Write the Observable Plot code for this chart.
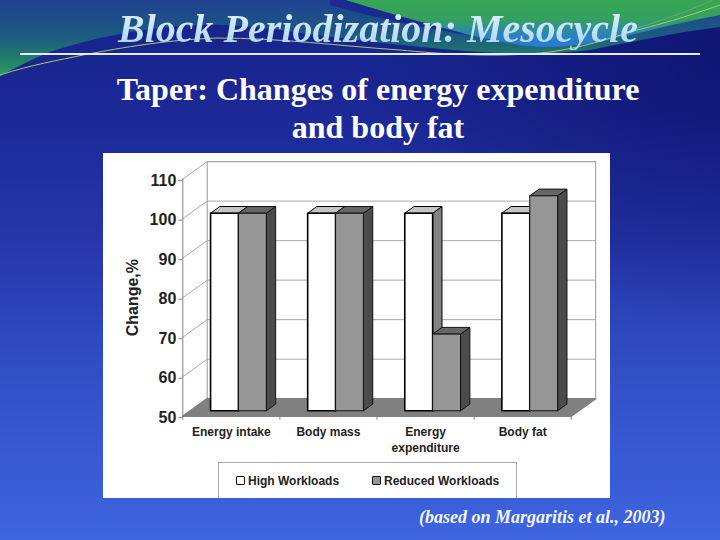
<!DOCTYPE html>
<html>
<head>
<meta charset="utf-8">
<script src="https://cdn.jsdelivr.net/npm/d3@7"></script>
<script src="https://cdn.jsdelivr.net/npm/@observablehq/plot@0.6"></script>
<style>
html,body{margin:0;padding:0}
body{width:720px;height:540px;position:relative;overflow:hidden;background:linear-gradient(180deg,#17238a 0%,#1b2896 20%,#2637ab 45%,#3250c6 70%,#3e64df 100%);background-size:720px 540px}
#deco{position:absolute;left:0;top:0;width:720px;height:540px;background-repeat:no-repeat}
.t{position:absolute;left:0;width:756px;text-align:center;font-family:"Liberation Serif","Times New Roman",serif;font-weight:bold;white-space:nowrap}
#title{top:7.5px;font-size:40px;line-height:42px;font-style:italic;background:linear-gradient(180deg,#e3f3ff,#a6d3f7);-webkit-background-clip:text;background-clip:text;color:transparent}
#rule{position:absolute;left:20px;top:53px;width:680px;height:2px;background:#e4ecff}
#sub{top:69.7px;font-size:32px;line-height:38px;color:#fff}
#box{position:absolute;left:103px;top:153px;width:507px;height:345px;background:#fff}
#box svg{display:block;background:transparent}
#legend{position:absolute;left:115px;top:309px;width:299px;height:36px;box-sizing:border-box;border:1px solid #aaa;border-bottom:0;font:bold 12px "Liberation Sans",Arial,sans-serif;color:#222}
#legend span{position:absolute;top:12px;line-height:13px;white-space:nowrap}
#legend i{display:inline-block;width:7px;height:7px;border:1.5px solid #111;margin-right:3px;vertical-align:0;border-radius:1px}
#cap{position:absolute;left:419px;top:507px;font:italic bold 18px "Liberation Serif","Times New Roman",serif;color:#f2f6ff;white-space:nowrap}
</style>
</head>
<body>
<div id="deco"></div>
<div id="title" class="t">Block Periodization: Mesocycle</div>
<div id="rule"></div>
<div id="sub" class="t">Taper: Changes of energy expenditure<br>and body fat</div>
<div id="box"><div id="legend"></div></div>
<div id="cap">(based on Margaritis et al., 2003)</div>
<script>
const categories = ["Energy intake", "Body mass", "Energy\nexpenditure", "Body fat"];
const seriesNames = ["High Workloads", "Reduced Workloads"];
const highWorkloads = [100, 100, 100, 100];
const reducedWorkloads = [100, 100, 69.4, 104.4];
const yTicks = [50, 60, 70, 80, 90, 100, 110];
const yBase = 50;

// Decorative slide background (the swooshes)
const decoSvg = `<svg xmlns="http://www.w3.org/2000/svg" width="720" height="540">
<defs>
<linearGradient id="a" gradientUnits="userSpaceOnUse" x1="0" y1="0" x2="0" y2="80"><stop offset="0" stop-color="#1f4290"/><stop offset=".45" stop-color="#1d5a80"/><stop offset=".7" stop-color="#1f7a6a"/><stop offset="1" stop-color="#30a060"/></linearGradient>
<linearGradient id="b" gradientUnits="userSpaceOnUse" x1="0" y1="0" x2="0" y2="50"><stop offset="0" stop-color="#36a653"/><stop offset=".4" stop-color="#34a060"/><stop offset=".65" stop-color="#2b86b0"/><stop offset=".9" stop-color="#2a7ad8"/></linearGradient>
<radialGradient id="r" cx="1" cy=".1" r=".5"><stop offset="0" stop-color="#0e1470" stop-opacity=".9"/><stop offset="1" stop-color="#0e1470" stop-opacity="0"/></radialGradient>
</defs>
<rect width="720" height="540" fill="url(#r)"/>
<path d="M0 0H720V27C680 32 640 40 590 50C560 54 520 54 480 52C420 48 340 38 300 33C260 27 230 24 200 25C130 28 80 42 50 52C30 60 15 68 0 76Z" fill="url(#a)"/>
<path d="M345 0C400 17 440 27 470 35C510 44 530 47 550 47C580 46 610 40 643 32C670 25 700 19 720 15V0Z" fill="url(#b)"/>
<path d="M330 0H345C400 17 440 27 472 36C440 30 390 22 330 5Z" fill="#1a2a90"/>
<path d="M0 75C30 65 60 60 83 55C110 50 160 40 217 38C280 38 340 46 400 50C440 54 500 58 550 52C590 46 610 38 637 30C670 22 700 12 720 5" fill="none" stroke="#a8c86a" stroke-width="1"/>
<path d="M637 28C670 18 695 8 713 0" fill="none" stroke="#7fb06a" stroke-width=".7"/>
</svg>`;
document.getElementById("deco").style.backgroundImage = 'url("data:image/svg+xml,' + encodeURIComponent(decoSvg) + '")';

// Oblique projection in data units: depth 0 is the front axis plane, depth 1 the back wall
const DX = 0.2515, DY = 4.43;
const P = (x, y, d = 0) => ({x: x + d * DX, y: y + d * DY});
const poly = (pts, fill, stroke, strokeWidth, group) => pts.concat([pts[0]]).map(p => ({...p, fill, stroke, strokeWidth, group}));

const Df = 0.31, Db = 0.693, W = 0.287, X0 = 0.208;
let gid = 0;
const shapes = [];
const addShape = (pts, fill, stroke, sw) => shapes.push(...poly(pts, fill, stroke, sw, gid++));

// floor
addShape([P(0, yBase, 0), P(categories.length, yBase, 0), P(categories.length, yBase, 1), P(0, yBase, 1)], "#808080", "#808080", 0.5);

const styles = [
  {front: "#ffffff", top: "#c4c4c4", side: "#828282", stroke: "#000", sw: 1.6},
  {front: "#969696", top: "#666666", side: "#4b4b4b", stroke: "#111", sw: 1}
];
categories.forEach((c, i) => {
  [highWorkloads, reducedWorkloads].forEach((vals, s) => {
    const v = vals[i], a = i + X0 + s * W, b = a + W, st = styles[s];
    addShape([P(b, yBase, Df), P(b, yBase, Db), P(b, v, Db), P(b, v, Df)], st.side, st.stroke, 1);
    addShape([P(a, v, Df), P(b, v, Df), P(b, v, Db), P(a, v, Db)], st.top, st.stroke, 1);
    addShape([P(a, yBase, Df), P(b, yBase, Df), P(b, v, Df), P(a, v, Df)], st.front, st.stroke, st.sw);
  });
});

const gridBack = yTicks.filter(v => v > yBase).flatMap(v => [
  {...P(0, v, 0), k: v}, {...P(0, v, 1), k: v}, {...P(categories.length, v, 1), k: v}
]);
const frame = [P(0, yBase, 0), P(0, yBase, 1), P(0, 110, 1), P(categories.length, 110, 1), P(categories.length, yBase, 1), P(categories.length, yBase, 0)];
const boundaries = d3.range(categories.length + 1);
const centers = categories.map((c, i) => i + 0.5);

const chart = Plot.plot({
  width: 507, height: 307,
  marginLeft: 79.3, marginRight: 39.3, marginTop: 25.6, marginBottom: 44.3,
  style: {fontFamily: '"Liberation Sans", Arial, sans-serif', color: "#222", background: "transparent", overflow: "visible"},
  x: {type: "linear", domain: [0, categories.length]},
  y: {domain: [50, 110]},
  marks: [
    Plot.line(gridBack, {x: "x", y: "y", z: "k", stroke: "#a8a8a8", strokeWidth: 1}),
    Plot.line(frame, {x: "x", y: "y", stroke: "#a8a8a8", strokeWidth: 1.2}),
    Plot.line(shapes.filter(d => d.group === 0), {x: "x", y: "y", fill: "#808080", stroke: "#808080"}),
    Plot.ruleX([0], {y1: 50, y2: 110, stroke: "#808080"}),
    Plot.ruleY([50], {stroke: "#808080", strokeWidth: 1.2}),
    ...d3.groups(shapes.filter(d => d.group > 0), d => d.group).map(([g, pts]) =>
      Plot.line(pts, {x: "x", y: "y", fill: pts[0].fill, stroke: pts[0].stroke, strokeWidth: pts[0].strokeWidth, strokeLinejoin: "round"})),
    Plot.axisY({ticks: yTicks, tickSize: 4, tickPadding: 2.5, stroke: "#808080", fill: "#222", fontSize: 16, fontWeight: "bold", dy: 1.5,
      label: "Change,%", labelAnchor: "center", labelArrow: "none", labelOffset: 56}),
    Plot.axisX({ticks: boundaries, tickSize: 4, tickFormat: () => null, stroke: "#808080", label: null}),
    Plot.axisX({ticks: centers, tickSize: 0, tickPadding: 9, label: null, fill: "#222", fontSize: 12, fontWeight: "bold", lineHeight: 1.3,
      textOverflow: null, tickFormat: v => categories[Math.round(v - 0.5)]})
  ]
});
const box = document.getElementById("box");
box.insertBefore(chart, box.firstChild);

// legend
const legend = document.getElementById("legend");
const legendPos = [[17, styles[0].front], [153, styles[1].front]];
seriesNames.forEach((n, i) => {
  const s = document.createElement("span");
  s.style.left = legendPos[i][0] + "px";
  const sw = document.createElement("i");
  sw.style.background = legendPos[i][1];
  s.appendChild(sw);
  s.appendChild(document.createTextNode(n));
  legend.appendChild(s);
});
</script>
</body>
</html>
